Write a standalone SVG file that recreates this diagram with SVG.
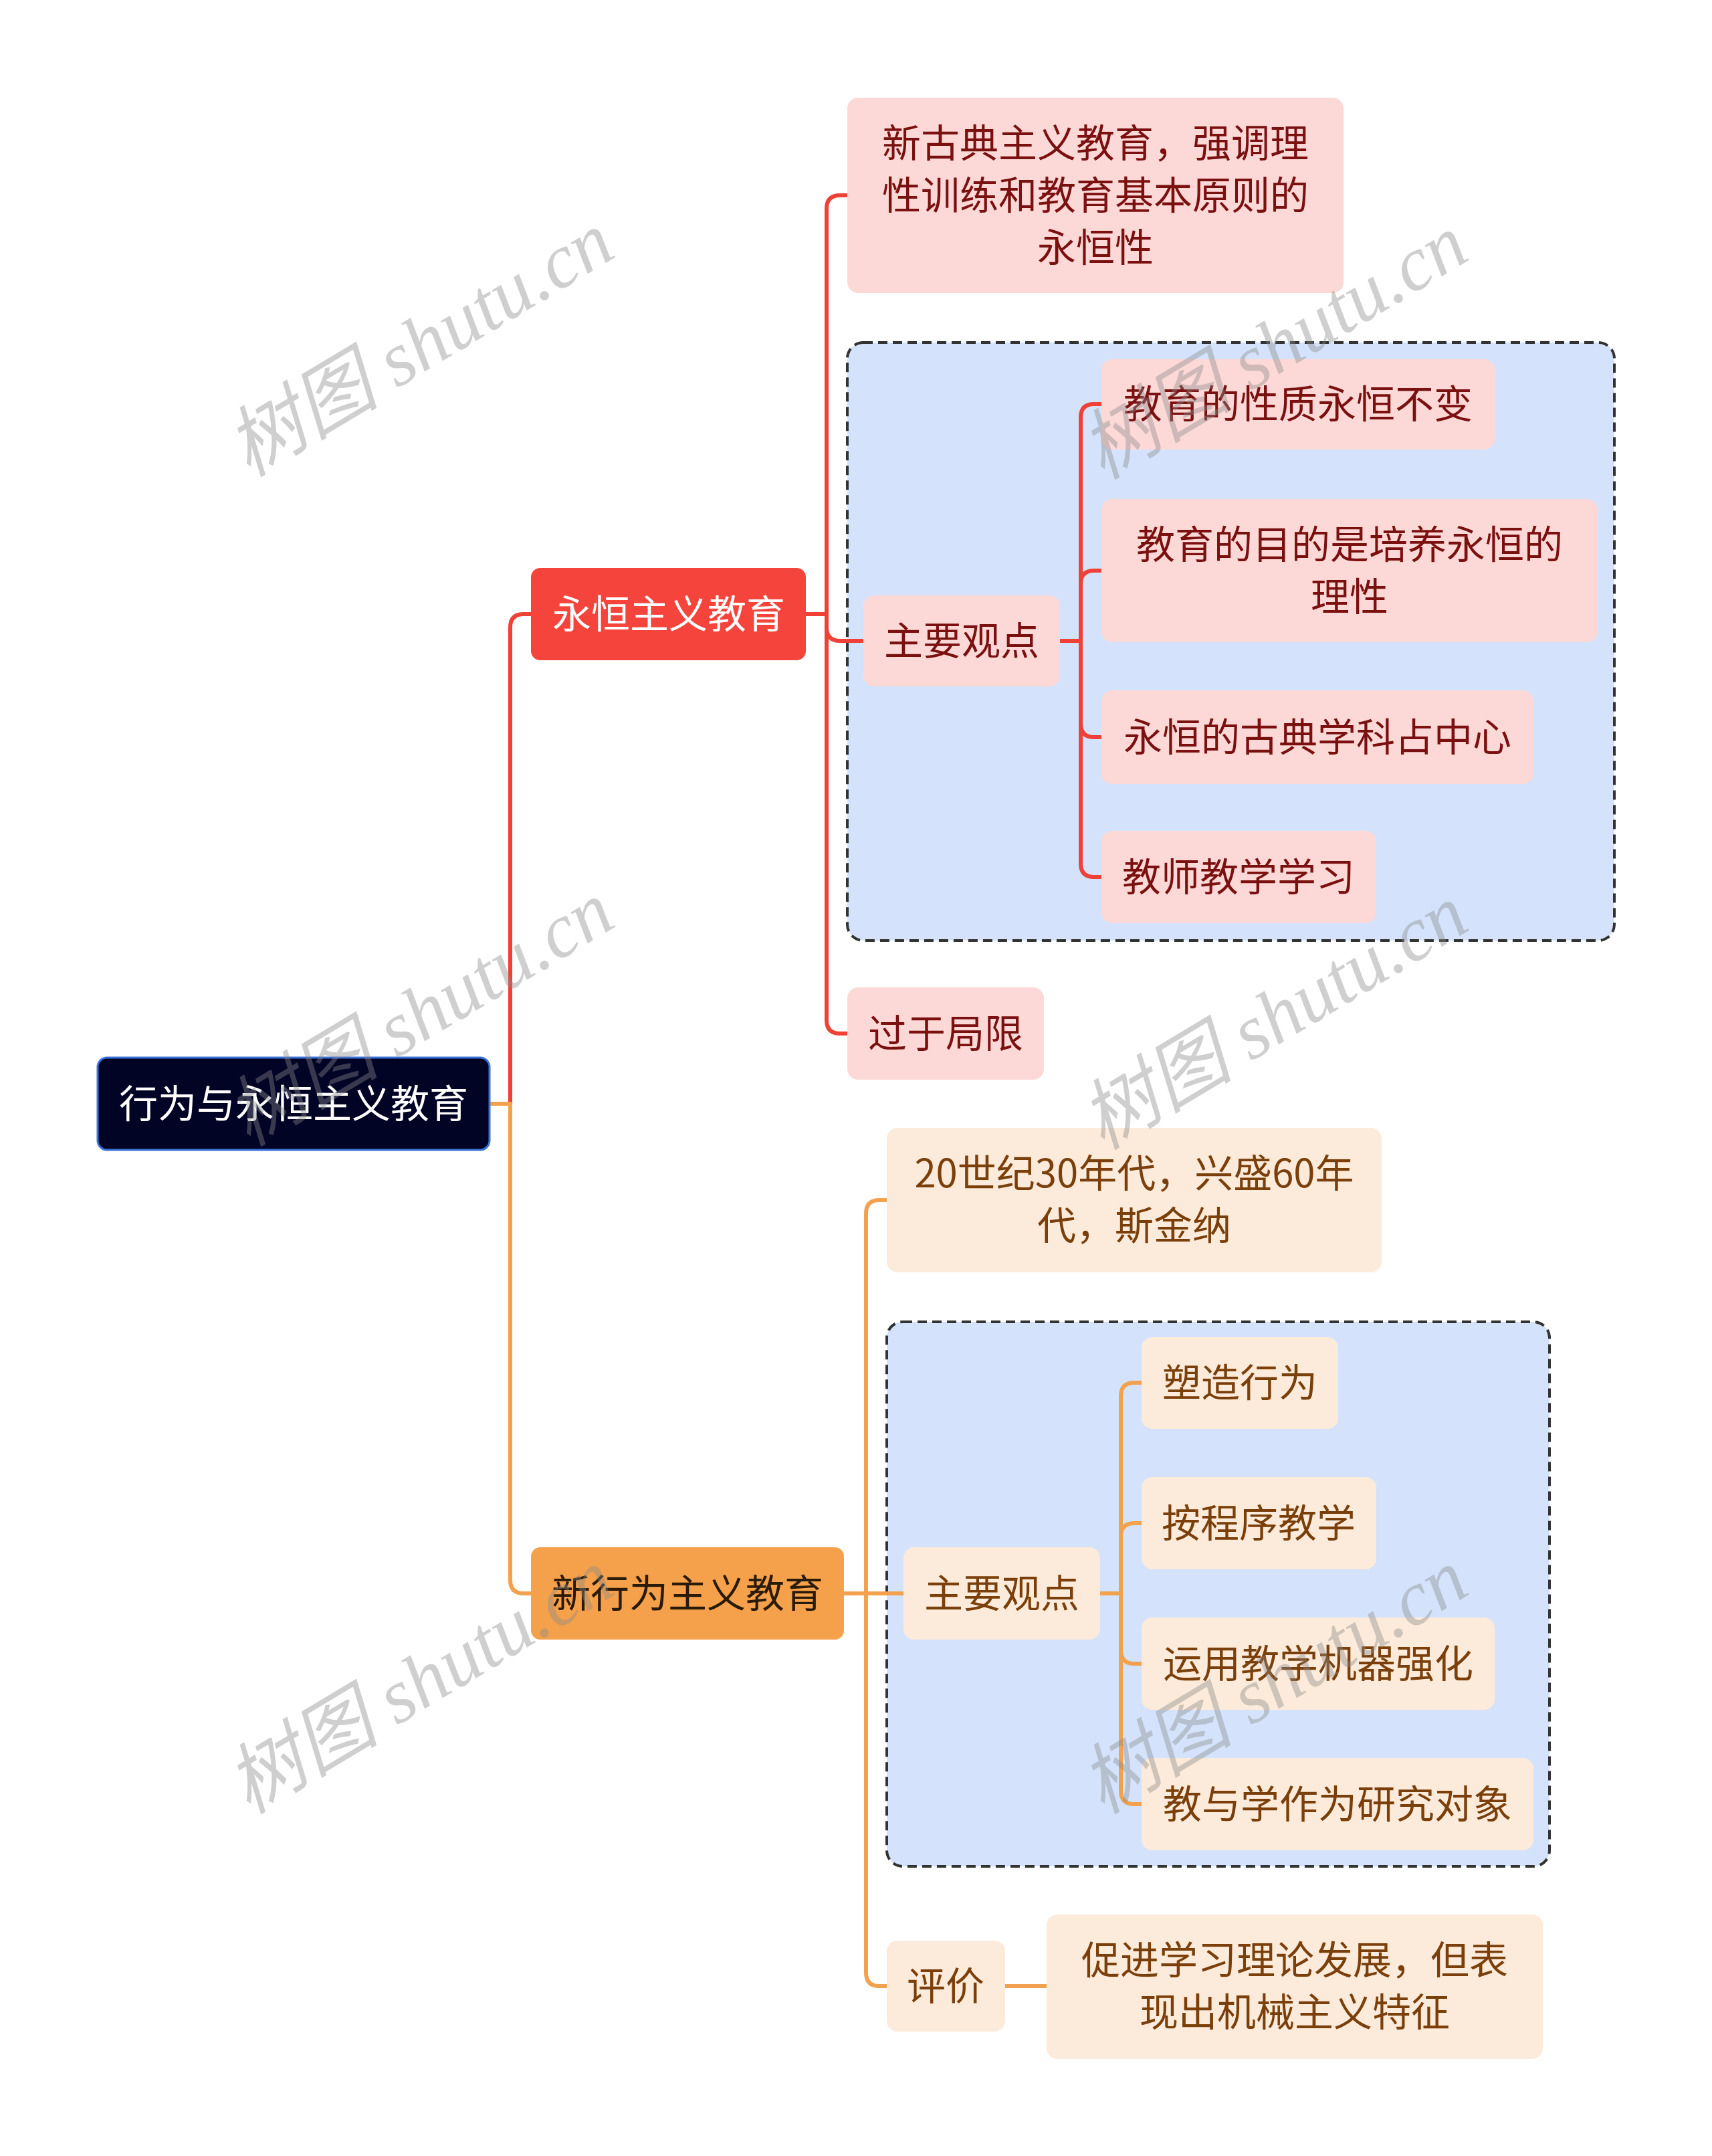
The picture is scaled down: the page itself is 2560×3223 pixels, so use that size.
<svg xmlns="http://www.w3.org/2000/svg" width="2560" height="3223" viewBox="0 0 2560 3223">
<style>
.t{font-family:"Noto Sans CJK SC","Noto Sans",sans-serif;font-size:58px;text-anchor:middle}
.tw{fill:#ffffff}
.tr{fill:#7a1010}
.to{fill:#7a3f0a}
.rc{fill:#fcd9d7}
.oc{fill:#fcebda}
.grp{fill:#d4e3fb;stroke:#333;stroke-width:4;stroke-dasharray:14 8}
.lr{fill:none;stroke:#ef4136;stroke-width:6;stroke-linejoin:round}
.lo{fill:none;stroke:#f2a24e;stroke-width:6;stroke-linejoin:round}
.wm{font-family:"Liberation Serif","Noto Sans CJK SC",serif;font-style:italic;font-size:115px;fill:#8a8a8a;opacity:0.4;text-anchor:middle}
</style>
<rect width="2560" height="3223" fill="#ffffff"/>
<g id="groups">
<rect class="grp" x="1267" y="512" width="1147" height="894" rx="24"/>
<rect class="grp" x="1326" y="1976" width="991" height="814" rx="24"/>
</g>
<g id="connectors">
<path class="lr" d="M763 1650 V938 Q763 918 783 918 H794"/>
<path class="lo" d="M732 1650 H763 V2362 Q763 2382 783 2382 H794"/>
<path class="lr" d="M1205 918 H1236 M1236 918 V312 Q1236 292 1256 292 H1267 M1236 918 V938 Q1236 958 1256 958 H1291 M1236 918 V1525 Q1236 1545 1256 1545 H1267"/>
<path class="lr" d="M1585 958 H1616 M1616 958 V624 Q1616 604 1636 604 H1647 M1616 958 V873 Q1616 853 1636 853 H1647 M1616 958 V1082 Q1616 1102 1636 1102 H1647 M1616 958 V1291 Q1616 1311 1636 1311 H1647"/>
<path class="lo" d="M1262 2382 H1295 M1295 2382 V1814 Q1295 1794 1315 1794 H1326 M1295 2382 H1351 M1295 2382 V2949 Q1295 2969 1315 2969 H1326 M1503 2969 H1565"/>
<path class="lo" d="M1645 2382 H1676 M1676 2382 V2087 Q1676 2067 1696 2067 H1707 M1676 2382 V2297 Q1676 2277 1696 2277 H1707 M1676 2382 V2467 Q1676 2487 1696 2487 H1707 M1676 2382 V2677 Q1676 2697 1696 2697 H1707"/>
</g>
<g id="root">
<rect x="146" y="1581" width="586" height="138" rx="14" fill="#020426" stroke="#3a72d6" stroke-width="3"/>
<text class="t tw" x="439" y="1671">行为与永恒主义教育</text>
</g>
<g id="b1">
<rect x="794" y="849" width="411" height="138" rx="14" fill="#f5443c"/>
<text class="t tw" x="1000" y="939">永恒主义教育</text>
</g>
<g id="b1a">
<rect class="rc" x="1267" y="146" width="742" height="292" rx="16"/>
<text class="t tr" x="1638" y="235">新古典主义教育，强调理</text>
<text class="t tr" x="1638" y="313">性训练和教育基本原则的</text>
<text class="t tr" x="1638" y="391">永恒性</text>
</g>
<g id="b1b">
<rect class="rc" x="1291" y="890" width="294" height="136" rx="16"/>
<text class="t tr" x="1438" y="979">主要观点</text>
</g>
<g id="b1b1">
<rect class="rc" x="1647" y="537" width="588" height="135" rx="16"/>
<text class="t tr" x="1941" y="625">教育的性质永恒不变</text>
</g>
<g id="b1b2">
<rect class="rc" x="1647" y="746" width="742" height="214" rx="16"/>
<text class="t tr" x="2018" y="835">教育的目的是培养永恒的</text>
<text class="t tr" x="2018" y="913">理性</text>
</g>
<g id="b1b3">
<rect class="rc" x="1647" y="1032" width="646" height="140" rx="16"/>
<text class="t tr" x="1970" y="1123">永恒的古典学科占中心</text>
</g>
<g id="b1b4">
<rect class="rc" x="1647" y="1242" width="411" height="138" rx="16"/>
<text class="t tr" x="1852" y="1332">教师教学学习</text>
</g>
<g id="b1c">
<rect class="rc" x="1267" y="1476" width="294" height="138" rx="16"/>
<text class="t tr" x="1414" y="1566">过于局限</text>
</g>
<g id="b2">
<rect x="794" y="2313" width="468" height="138" rx="14" fill="#f5a04a"/>
<text class="t" fill="#2a1a08" x="1028" y="2403">新行为主义教育</text>
</g>
<g id="b2a">
<rect class="oc" x="1326" y="1686" width="740" height="216" rx="16"/>
<text class="t to" x="1696" y="1775">20世纪30年代，兴盛60年</text>
<text class="t to" x="1696" y="1853">代，斯金纳</text>
</g>
<g id="b2b">
<rect class="oc" x="1351" y="2313" width="294" height="138" rx="16"/>
<text class="t to" x="1498" y="2403">主要观点</text>
</g>
<g id="b2b1">
<rect class="oc" x="1707" y="1999" width="294" height="137" rx="16"/>
<text class="t to" x="1854" y="2088">塑造行为</text>
</g>
<g id="b2b2">
<rect class="oc" x="1707" y="2208" width="351" height="138" rx="16"/>
<text class="t to" x="1882" y="2298">按程序教学</text>
</g>
<g id="b2b3">
<rect class="oc" x="1707" y="2418" width="528" height="138" rx="16"/>
<text class="t to" x="1971" y="2508">运用教学机器强化</text>
</g>
<g id="b2b4">
<rect class="oc" x="1707" y="2628" width="586" height="138" rx="16"/>
<text class="t to" x="2000" y="2718">教与学作为研究对象</text>
</g>
<g id="b2c">
<rect class="oc" x="1326" y="2901" width="177" height="136" rx="16"/>
<text class="t to" x="1414" y="2990">评价</text>
</g>
<g id="b2c1">
<rect class="oc" x="1565" y="2862" width="742" height="216" rx="16"/>
<text class="t to" x="1936" y="2951">促进学习理论发展，但表</text>
<text class="t to" x="1936" y="3029">现出机械主义特征</text>
</g>
<g id="watermarks">
<text class="wm" transform="translate(648 548) rotate(-31)">树图 shutu.cn</text>
<text class="wm" transform="translate(1925 552) rotate(-31)">树图 shutu.cn</text>
<text class="wm" transform="translate(648 1549) rotate(-31)">树图 shutu.cn</text>
<text class="wm" transform="translate(1925 1554) rotate(-31)">树图 shutu.cn</text>
<text class="wm" transform="translate(648 2547) rotate(-31)">树图 shutu.cn</text>
<text class="wm" transform="translate(1925 2547) rotate(-31)">树图 shutu.cn</text>
</g>
</svg>
